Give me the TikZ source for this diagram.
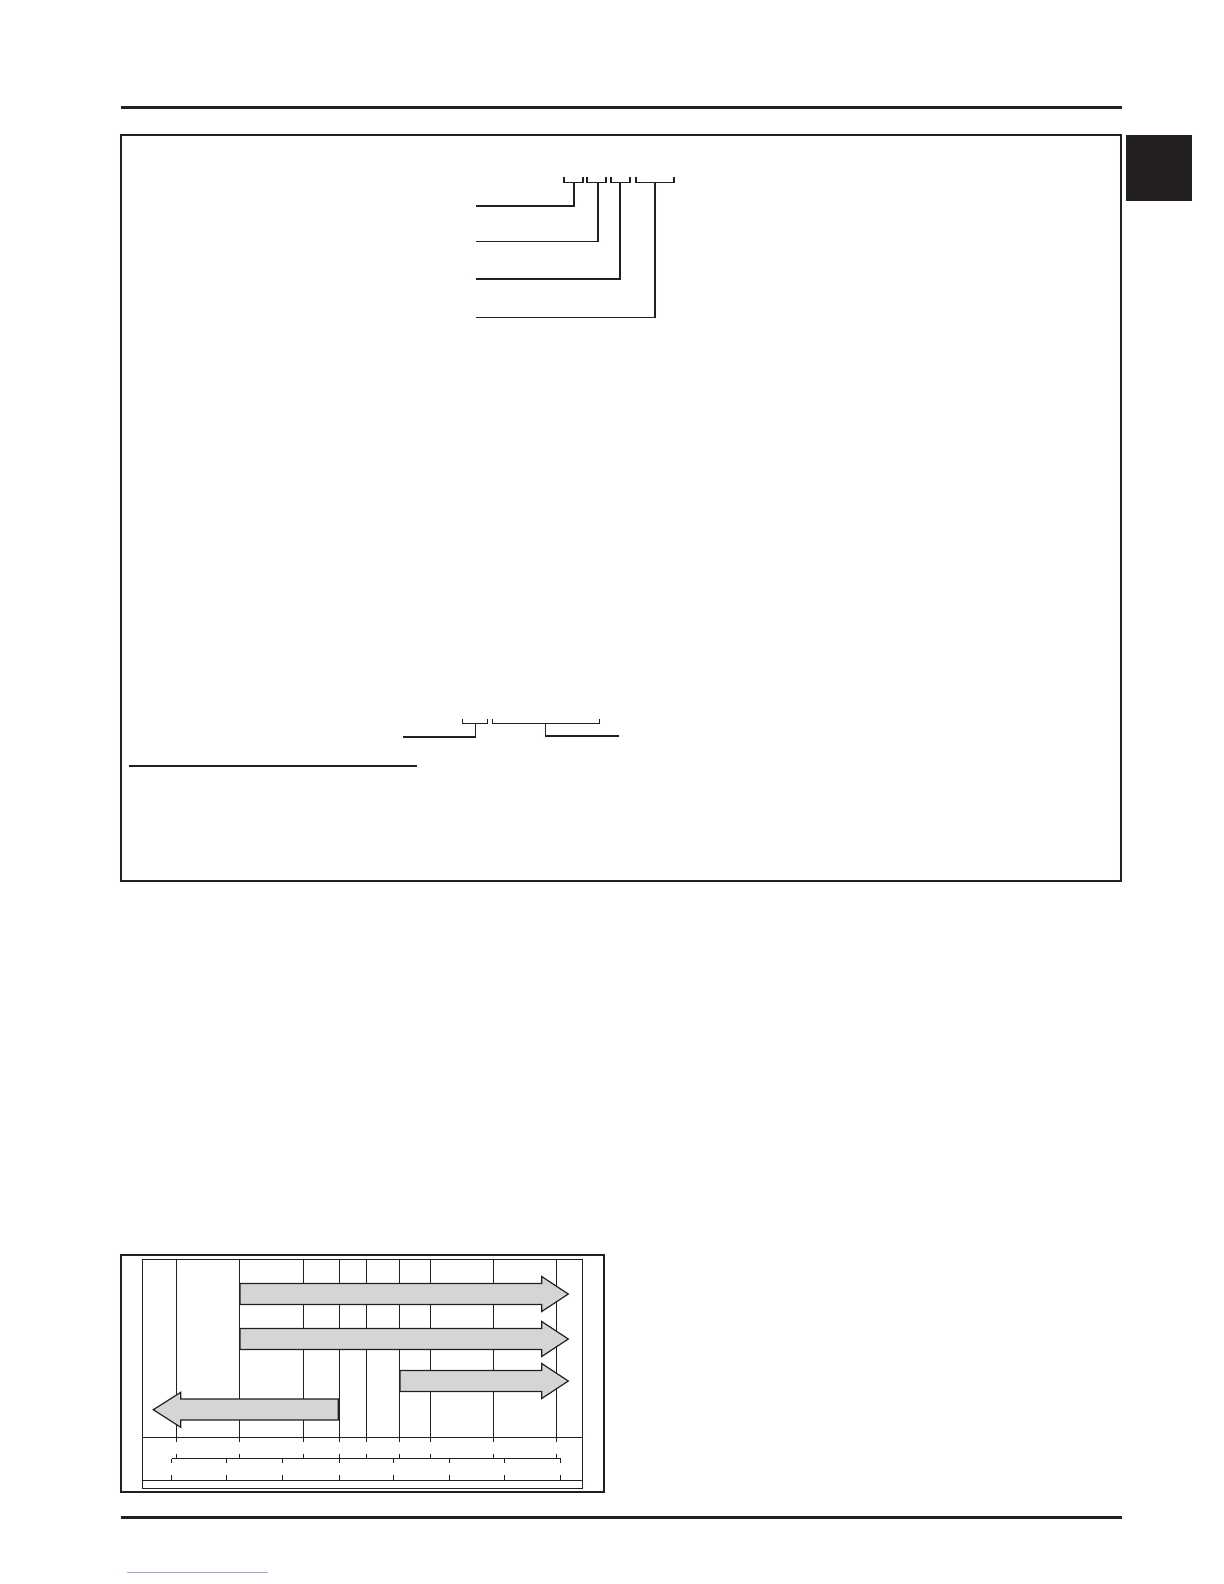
\documentclass[tikz,border=0pt]{standalone}
\usepackage{xcolor}
\usepackage{tikz}
\definecolor{inkblack}{RGB}{35,31,32}
\definecolor{arrowgray}{RGB}{212,213,215}
\definecolor{linkblue}{RGB}{150,170,220}

\begin{document}
\begin{tikzpicture}[x=0.5pt,y=-0.5pt,
        rule/.style={line width=1.5pt,inkblack},
        frame/.style={line width=1pt,inkblack},
        leader/.style={line width=0.6pt,inkblack},
        grid/.style={line width=0.5pt,inkblack},
        bigarrow/.style={draw=inkblack,line width=0.6pt,fill=arrowgray,line join=miter}]

        \useasboundingbox (0,0) rectangle (1224,1584);

        \draw[rule]  (121,107.5) -- (1122,107.5);
        \draw[frame] (121,135.5) rectangle (1121,881);
        \fill[inkblack] (1126,135) rectangle (1192,201);

        \foreach \l/\r/\s/\y in {564/583/574/206, 587/606/598/241.6, 611/630/620/279, 636/674/655/317.5}
            \draw[leader] (\l,176.7) -- (\l,182.3) -- (\r,182.3) -- (\r,176.7)
                          (\s,182.3) -- (\s,\y) -- (476,\y);

        \draw[leader] (462.3,719.3) -- (462.3,723.3) -- (487.3,723.3) -- (487.3,719.3)
                      (475.7,723.3) |- (402.7,737);
        \draw[leader] (492.7,719.3) -- (492.7,723.3) -- (599.3,723.3) -- (599.3,719.3)
                      (545.3,723.3) |- (619.3,736);
        \draw[line width=1.35pt,inkblack] (129,766) -- (416.7,766);

        \draw[frame] (120.7,1255) rectangle (603.5,1492);
        \draw[grid]  (142,1259.5) rectangle (582.3,1488.3);
        \draw[grid]  (142,1437.3) -- (582.3,1437.3)
                     (142,1480.3) -- (582.3,1480.3)
                     (171.7,1458.7) -- (560.7,1458.7);
        \foreach \x in {176.7,239.3,303.3,339.3,366.3,399.3,430.3,493.3,556.7}
            \draw[grid] (\x,1259.5) -- (\x,1442) (\x,1454) -- (\x,1458.7);
        \foreach \x in {171.7,226.3,282.3,339.3,393.3,449.3,504.3,560.7}
            \draw[grid] (\x,1458.7) -- (\x,1463.3) (\x,1475) -- (\x,1480.3);

        \foreach \a/\y in {240/1294, 240/1339, 400/1381}
            \draw[bigarrow] (\a,\y-10.5) -- (541.7,\y-10.5) -- (541.7,\y-17.5) -- (568.3,\y)
                            -- (541.7,\y+17.5) -- (541.7,\y+10.5) -- (\a,\y+10.5) -- cycle;
        \draw[bigarrow] (338.3,1399) -- (180.7,1399) -- (180.7,1392.3) -- (153.3,1409.7)
                        -- (180.7,1427.3) -- (180.7,1420) -- (338.3,1420) -- cycle;

        \draw[rule] (121,1517) -- (1122,1517);
        \draw[linkblue,line width=0.5pt] (127,1572) -- (268,1572);

\end{tikzpicture}
\end{document}
